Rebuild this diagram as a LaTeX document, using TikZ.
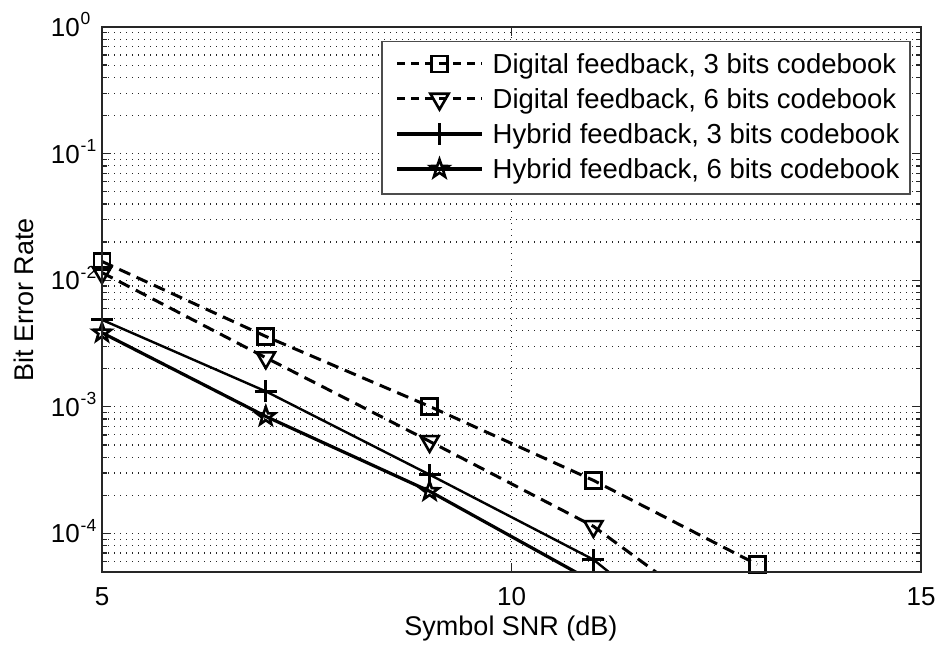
\documentclass[tikz,border=0pt]{standalone}
\usepackage{fontspec}
\setmainfont{Liberation Sans}
\usetikzlibrary{shapes.geometric}
\begin{document}
\begin{tikzpicture}[x=1pt,y=1pt,
  declare function={px(\a)=102+(\a-5)*81.9; py(\b)=623+126.6*\b;},
  gridline/.style={line width=1.2pt, dash pattern=on 1.2pt off 4.8pt, black!85},
  axisline/.style={line width=1.4pt, black!85},
  tickmark/.style={line width=1.3pt, black!85},
  dline/.style={line width=3.0pt, dash pattern=on 12pt off 7pt},
  hthree/.style={line width=2.4pt},
  hsix/.style={line width=3.2pt},
  msq/.style={draw, rectangle, line width=2.8pt, minimum size=16pt, inner sep=0pt},
  mtri/.style={draw, regular polygon, regular polygon sides=3, shape border rotate=180, line width=2.6pt, minimum size=21pt, inner sep=0pt},
  mstar/.style={draw, star, star points=5, star point ratio=2.5, line width=2.6pt, minimum size=19pt, inner sep=0pt},
  mplus/.pic={\draw[line width=2.8pt] (-11,0)--(11,0) (0,-11)--(0,11);},
  ticklab/.style={font=\fontsize{26}{30}\selectfont, inner sep=0pt},
  explab/.style={font=\fontsize{17.5}{20}\selectfont, inner sep=0pt},
  lab/.style={font=\fontsize{27}{32}\selectfont, inner sep=0pt},
  legtext/.style={font=\fontsize{27.5}{32}\selectfont, inner sep=0pt, anchor=base west},
]
\useasboundingbox (0,0) rectangle (941,650);

% ---- grid and y ticks ----
\foreach \k in {-5,-4,-3,-2,-1}{
  \foreach \m in {1,...,9}{
    \pgfmathsetmacro{\lv}{\k+log10(\m)}
    \pgfmathsetmacro{\yy}{py(\lv)}
    \pgfmathtruncatemacro{\inr}{(\lv>-4.29)&&(\lv<-0.01)}
    \ifnum\inr=1
      \draw[gridline] (102,\yy) -- (921,\yy);
      \ifnum\m=1 \def\tl{9}\else\def\tl{5}\fi
      \draw[tickmark] (102,\yy) -- ++(\tl,0) (921,\yy) -- ++(-\tl,0);
    \fi
  }
}
\draw[gridline] (511.5,78) -- (511.5,623);
\draw[tickmark] (511.5,78) -- (511.5,87) (511.5,623) -- (511.5,614);

% ---- data points ----
\coordinate (d3a) at ({px(5)},{py(-1.852)});
\coordinate (d3b) at ({px(7)},{py(-2.444)});
\coordinate (d3c) at ({px(9)},{py(-2.997)});
\coordinate (d3d) at ({px(11)},{py(-3.581)});
\coordinate (d3e) at ({px(13)},{py(-4.246)});
\coordinate (d6a) at ({px(5)},{py(-1.94)});
\coordinate (d6b) at ({px(7)},{py(-2.612)});
\coordinate (d6c) at ({px(9)},{py(-3.273)});
\coordinate (d6d) at ({px(11)},{py(-3.944)});
\coordinate (d6e) at ({px(13)},{py(-4.89)});
\coordinate (h3a) at ({px(5)},{py(-2.313)});
\coordinate (h3b) at ({px(7)},{py(-2.878)});
\coordinate (h3c) at ({px(9)},{py(-3.536)});
\coordinate (h3d) at ({px(11)},{py(-4.207)});
\coordinate (h3e) at ({px(13)},{py(-5.25)});
\coordinate (h6a) at ({px(5)},{py(-2.415)});
\coordinate (h6b) at ({px(7)},{py(-3.076)});
\coordinate (h6c) at ({px(9)},{py(-3.667)});
\coordinate (h6d) at ({px(11)},{py(-4.383)});

\begin{scope}
  \clip (102,78) rectangle (921,623);
  \draw[dline] (d3a) -- (d3b) -- (d3c) -- (d3d) -- (d3e);
  \draw[dline] (d6a) -- (d6b) -- (d6c) -- (d6d) -- (d6e);
  \draw[hthree] (h3a) -- (h3b) -- (h3c) -- (h3d) -- (h3e);
  \draw[hsix] (h6a) -- (h6b) -- (h6c) -- (h6d);
\end{scope}

\foreach \p in {d3a,d3b,d3c,d3d,d3e}{\node[msq] at (\p) {};}
\foreach \p in {d6a,d6b,d6c,d6d}{\node[mtri] at (\p) {};}
\foreach \p in {h3a,h3b,h3c,h3d}{\pic at (\p) {mplus};}
\foreach \p in {h6a,h6b,h6c}{\node[mstar] at (\p) {};}

% ---- axes box ----
\draw[axisline] (102,78) rectangle (921,623);

% ---- tick labels ----
\foreach \e/\s in {0/0,-1/-1,-2/-2,-3/-3,-4/-4}{
  \pgfmathsetmacro{\yy}{py(\e)}
  \node[ticklab, anchor=base east] at (80,\yy-9.5) {10};
  \node[explab, anchor=base west] at (80.5,\yy+2) {\s};
}
\node[ticklab, anchor=base] at ({px(5)},45) {5};
\node[ticklab, anchor=base] at ({px(10)},45) {10};
\node[ticklab, anchor=base] at ({px(15)},45) {15};

% ---- axis labels ----
\node[lab, anchor=base] at (511,15) {Symbol SNR (dB)};
\node[lab, anchor=base, rotate=90] at (33,350) {Bit Error Rate};

% ---- legend ----
\draw[fill=white, draw=black!70, line width=1.3pt] (382,608.3) rectangle (910,456);
\coordinate (la1) at (397,586); \coordinate (lb1) at (482,586);
\coordinate (la2) at (397,551); \coordinate (lb2) at (482,551);
\coordinate (la3) at (397,516); \coordinate (lb3) at (482,516);
\coordinate (la4) at (397,481); \coordinate (lb4) at (482,481);
\draw[dline, dash pattern=on 8pt off 6pt] (la1) -- (lb1);
\draw[dline, dash pattern=on 8pt off 6pt] (la2) -- (lb2);
\draw[hsix] (la3) -- (lb3);
\draw[hsix] (la4) -- (lb4);
\node[msq] at (439.5,586) {};
\node[mtri] at (439.5,551) {};
\pic at (439.5,516) {mplus};
\node[mstar] at (439.5,481) {};
\node[legtext] at (492.5,576.7) {Digital feedback, 3 bits codebook};
\node[legtext] at (492.5,541.7) {Digital feedback, 6 bits codebook};
\node[legtext] at (492.5,506.7) {Hybrid feedback, 3 bits codebook};
\node[legtext] at (492.5,471.7) {Hybrid feedback, 6 bits codebook};
\end{tikzpicture}
\end{document}
